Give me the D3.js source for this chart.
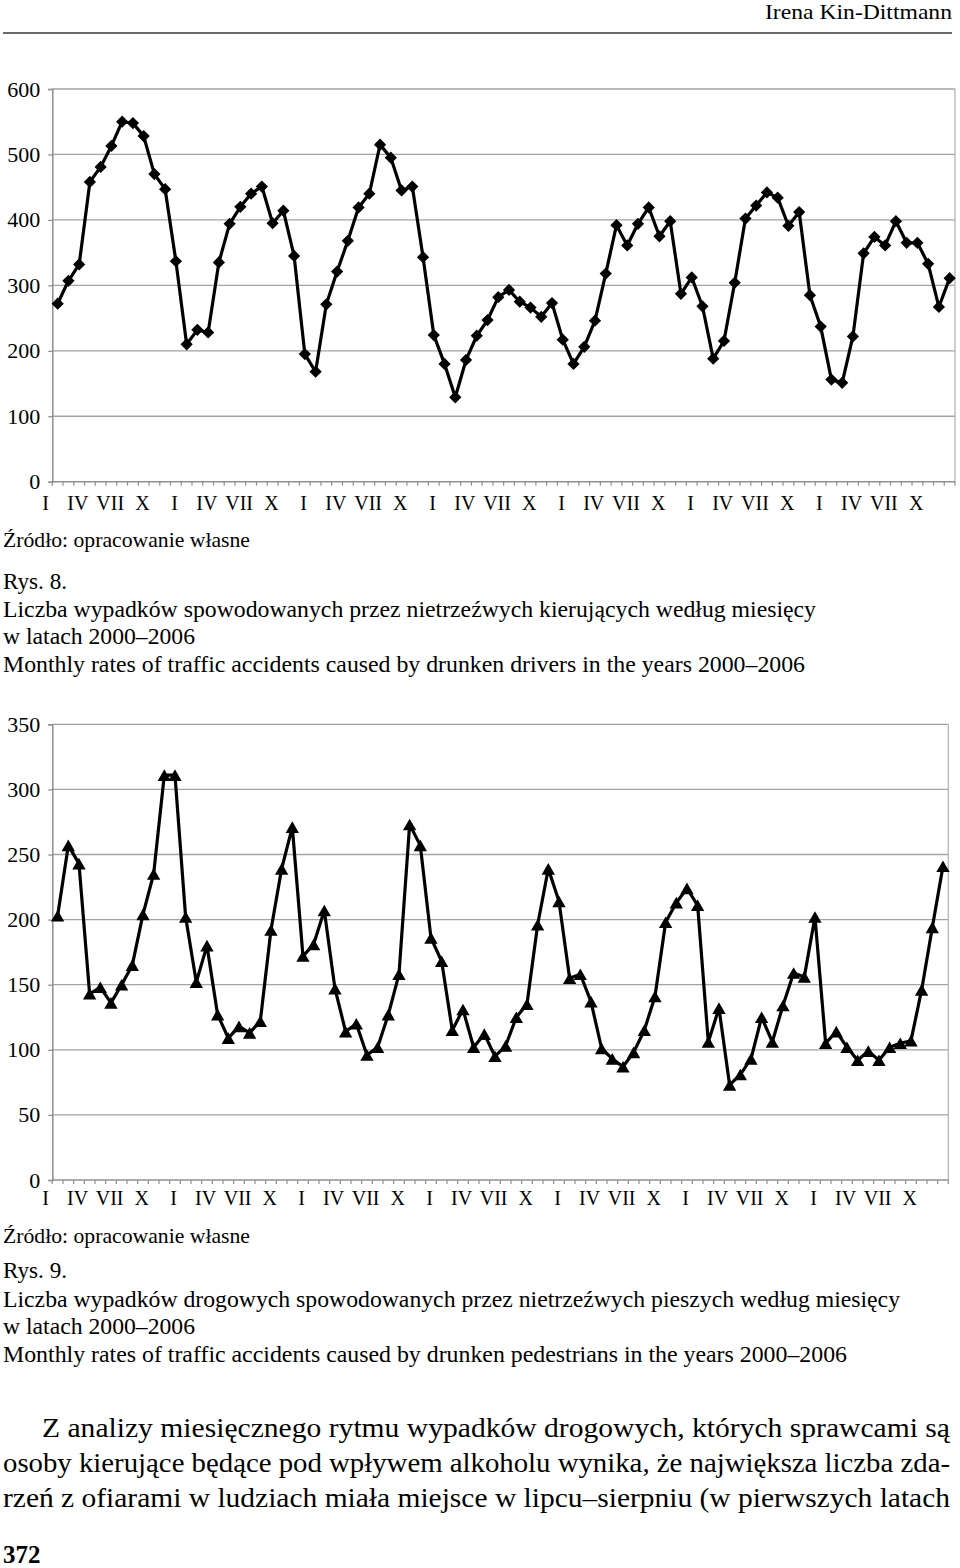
<!DOCTYPE html>
<html><head><meta charset="utf-8">
<script src="https://cdn.jsdelivr.net/npm/d3@7"></script>
<style>
body{margin:0;background:#fff}
svg{display:block;background:#fff}
text{font-family:"Times New Roman","Liberation Serif",Tinos,Times,serif;fill:#000}
</style>
</head><body>
<svg id="page" width="960" height="1568"></svg>
<script>
// ---------- data ----------
const years = [2000, 2001, 2002, 2003, 2004, 2005, 2006];
const monthLabels = ["I", "", "", "IV", "", "", "VII", "", "", "X", "", ""];
const driverTicks = [0, 100, 200, 300, 400, 500, 600];
const pedestrianTicks = [0, 50, 100, 150, 200, 250, 300, 350];

// Rys. 8 – accidents caused by drunken drivers (monthly, 2000–2006)
const driverAccidents = [
  272, 307, 332, 458, 481, 513, 550, 548, 528, 470, 447, 337,
  210, 232, 228, 335, 394, 420, 440, 451, 395, 414, 345, 195,
  168, 271, 321, 368, 419, 440, 515, 495, 445, 451, 343, 224,
  180, 129, 186, 223, 247, 282, 293, 275, 266, 252, 273, 217,
  180, 206, 246, 318, 392, 361, 394, 419, 375, 398, 287, 312,
  268, 188, 215, 304, 402, 422, 442, 434, 391, 412, 285, 237,
  156, 151, 222, 349, 374, 361, 398, 365, 365, 333, 267, 311
];
// Rys. 9 – accidents caused by drunken pedestrians (monthly, 2000–2006)
const pedestrianAccidents = [
  203, 257, 243, 143, 148, 136, 150, 165, 204, 235, 311, 311,
  202, 152, 180, 127, 109, 118, 113, 122, 192, 239, 271, 172,
  181, 207, 147, 114, 120, 96, 102, 127, 158, 273, 257, 186,
  168, 115, 131, 102, 112, 95, 103, 125, 135, 196, 239, 214,
  155, 158, 137, 101, 93, 87, 98, 115, 141, 198, 213, 224,
  211, 106, 132, 73, 81, 93, 125, 106, 134, 159, 156, 202,
  105, 114, 102, 92, 99, 92, 102, 105, 107, 146, 194, 241
];

const categories = d3.range(years.length * monthLabels.length);
const FONT = '"Times New Roman","Liberation Serif",Tinos,Times,serif';

// ---------- page ----------
const svg = d3.select("#page");
svg.append("rect").attr("width", 960).attr("height", 1568).attr("fill", "#fff");

// header
svg.append("text").attr("x", 952).attr("y", 19).attr("text-anchor", "end")
  .style("font-size", "22px").attr("textLength", 187).attr("lengthAdjust", "spacingAndGlyphs")
  .text("Irena Kin-Dittmann");
svg.append("line").attr("x1", 3).attr("x2", 952).attr("y1", 33).attr("y2", 33)
  .attr("stroke", "#3a3a3a").attr("stroke-width", 1.6);

// marker shapes
const diamondSym = {
  draw(ctx, size) {
    const r = Math.sqrt(size) / 2;
    ctx.moveTo(0, -r); ctx.lineTo(r, 0); ctx.lineTo(0, r); ctx.lineTo(-r, 0); ctx.closePath();
  }
};
const triangleSym = {
  draw(ctx, size) {
    const w = Math.sqrt(size) * 1.15, h = Math.sqrt(size);
    ctx.moveTo(0, -h / 2); ctx.lineTo(w / 2, h / 2); ctx.lineTo(-w / 2, h / 2); ctx.closePath();
  }
};

function drawChart(o) {
  const g = svg.append("g");
  const x = d3.scaleBand().domain(categories).range([o.left, o.right]).padding(0);
  const y = d3.scaleLinear().domain([0, o.max]).range([o.bottom, o.top]);
  const bw = x.bandwidth();
  const cx = i => x(i) + bw / 2;

  // gridlines
  g.selectAll("line.grid").data(o.ticks.filter(t => t > 0)).join("line")
    .attr("x1", o.left).attr("x2", o.right)
    .attr("y1", d => y(d)).attr("y2", d => y(d))
    .attr("stroke", "#a3a3a3").attr("stroke-width", 1.3);
  // right border
  g.append("line").attr("x1", o.right).attr("x2", o.right)
    .attr("y1", o.top).attr("y2", o.bottom)
    .attr("stroke", "#b5b5b5").attr("stroke-width", 1.3);

  // y axis
  const ya = g.append("g").attr("transform", `translate(${o.left},0)`)
    .call(d3.axisLeft(y).tickValues(o.ticks).tickSize(4).tickPadding(8).tickFormat(d3.format("d")));
  ya.select(".domain").attr("stroke", "#8f8f8f").attr("stroke-width", 1.5);
  ya.selectAll(".tick line").attr("stroke", "#8f8f8f").attr("stroke-width", 1.3);
  ya.selectAll(".tick text").style("font-size", "22px")
    .style("font-family", FONT).attr("fill", "#000");

  // x axis line + monthly tick marks
  g.append("line").attr("x1", o.left).attr("x2", o.right)
    .attr("y1", o.bottom).attr("y2", o.bottom)
    .attr("stroke", "#8f8f8f").attr("stroke-width", 1.5);
  const bounds = categories.map(i => x(i)).concat([o.right]);
  g.selectAll("line.mt").data(bounds).join("line")
    .attr("x1", d => d).attr("x2", d => d)
    .attr("y1", o.bottom).attr("y2", o.bottom + 4)
    .attr("stroke", "#8f8f8f").attr("stroke-width", 1.2);

  // x labels
  const xa = g.append("g").attr("transform", `translate(0,${o.bottom})`)
    .call(d3.axisBottom(x).tickValues(categories.filter(i => monthLabels[i % 12] !== ""))
      .tickSize(0).tickFormat(i => monthLabels[i % 12]));
  xa.select(".domain").remove();
  xa.selectAll(".tick text").attr("y", o.labelY).attr("dy", 0).attr("dx", -12)
    .style("font-size", "20px")
    .style("font-family", FONT).attr("fill", "#000");

  // series line
  g.append("path").datum(o.values)
    .attr("d", d3.line().x((d, i) => cx(i)).y(d => y(d)))
    .attr("fill", "none").attr("stroke", "#000").attr("stroke-width", 3.2)
    .attr("stroke-linejoin", "round");
  // markers
  g.selectAll("path.mk").data(o.values).join("path")
    .attr("transform", (d, i) => `translate(${cx(i)},${y(d)})`)
    .attr("d", d3.symbol().type(o.symbol).size(o.symSize))
    .attr("fill", "#000");

  // captions
  o.captions.forEach(c => {
    const t = svg.append("text").attr("x", 3).attr("y", c.y)
      .style("font-size", c.size + "px").text(c.text);
    if (c.len) t.attr("textLength", c.len).attr("lengthAdjust", "spacingAndGlyphs");
  });
}

drawChart({
  left: 52.3, right: 955, top: 89, bottom: 481.7, max: 600,
  ticks: driverTicks, values: driverAccidents,
  symbol: diamondSym, symSize: 150, labelY: 28.3,
  captions: [
    {text: "Źródło: opracowanie własne", y: 547, size: 21, len: 247},
    {text: "Rys. 8.", y: 589, size: 23, len: 64},
    {text: "Liczba wypadków spowodowanych przez nietrzeźwych kierujących według miesięcy", y: 617, size: 23, len: 813},
    {text: "w latach 2000–2006", y: 644, size: 23, len: 192},
    {text: "Monthly rates of traffic accidents caused by drunken drivers in the years 2000–2006", y: 672, size: 23, len: 802}
  ]
});

drawChart({
  left: 52.3, right: 948.3, top: 724.3, bottom: 1180, max: 350,
  ticks: pedestrianTicks, values: pedestrianAccidents,
  symbol: triangleSym, symSize: 135, labelY: 25,
  captions: [
    {text: "Źródło: opracowanie własne", y: 1243, size: 21, len: 247},
    {text: "Rys. 9.", y: 1278, size: 23, len: 64},
    {text: "Liczba wypadków drogowych spowodowanych przez nietrzeźwych pieszych według miesięcy", y: 1307, size: 23, len: 897},
    {text: "w latach 2000–2006", y: 1334, size: 23, len: 192},
    {text: "Monthly rates of traffic accidents caused by drunken pedestrians in the years 2000–2006", y: 1362, size: 23, len: 844}
  ]
});

// body text (justified lines)
const bodyLines = [
  {text: "Z analizy miesięcznego rytmu wypadków drogowych, których sprawcami są", x: 42, y: 1437},
  {text: "osoby kierujące będące pod wpływem alkoholu wynika, że największa liczba zda-", x: 3, y: 1472},
  {text: "rzeń z ofiarami w ludziach miała miejsce w lipcu–sierpniu (w pierwszych latach", x: 3, y: 1507}
];
bodyLines.forEach(l => {
  svg.append("text").attr("x", l.x).attr("y", l.y).style("font-size", "27px")
    .attr("textLength", 950 - l.x).attr("lengthAdjust", "spacingAndGlyphs").text(l.text);
});
svg.append("text").attr("x", 3).attr("y", 1563).style("font-size", "25px")
  .style("font-weight", "bold").text("372");
</script>
</body></html>
